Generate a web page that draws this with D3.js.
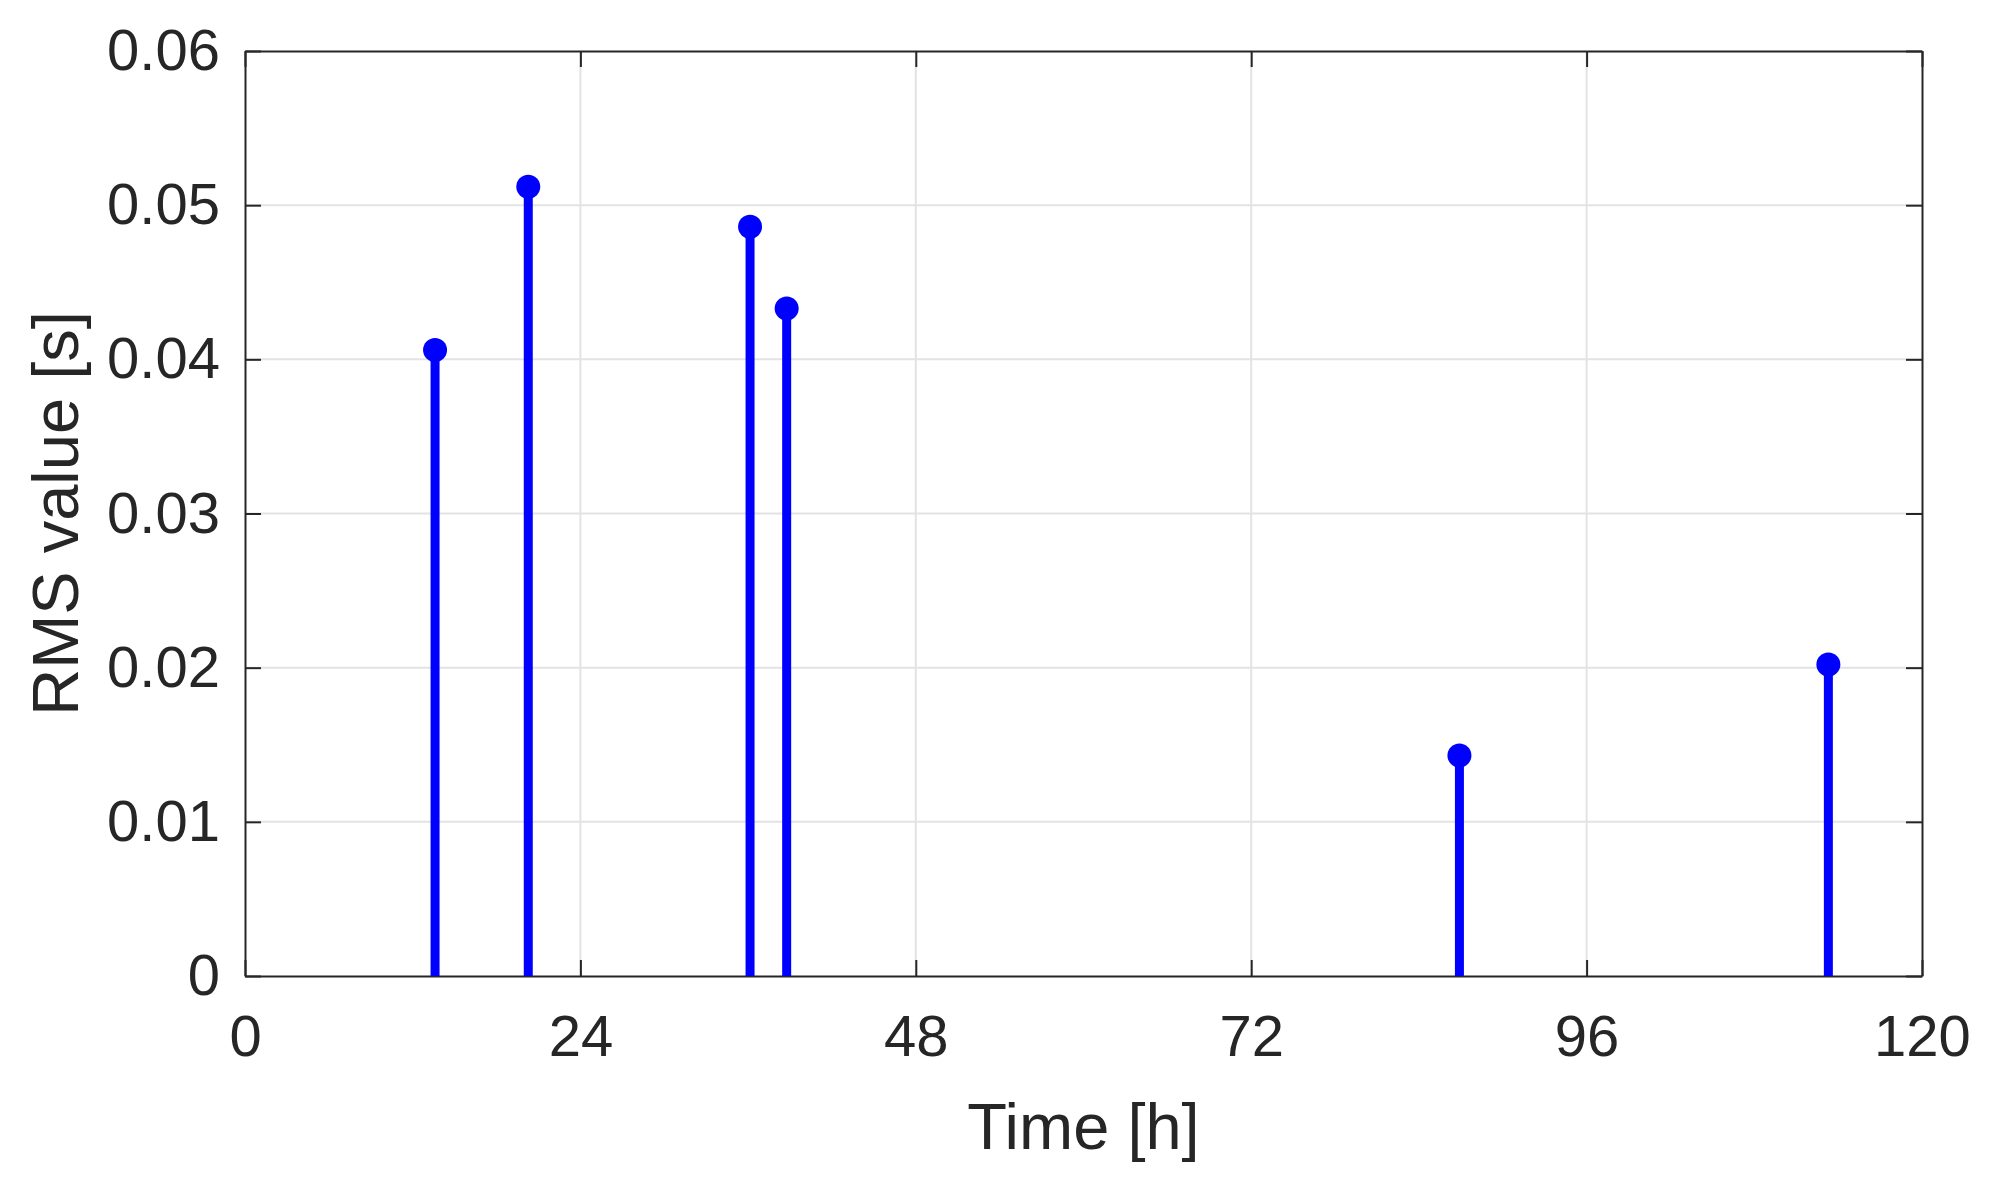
<!DOCTYPE html>
<html>
<head>
<meta charset="utf-8">
<script src="https://cdn.jsdelivr.net/npm/d3@7"></script>
<style>
  body { margin: 0; background: #fff; }
  text { font-family: "Liberation Sans", Arial, sans-serif; fill: #262626; }
</style>
</head>
<body>
<div id="chart"></div>
<script>
// data
var timeHours = [13.6, 20.27, 36.14, 38.76, 86.9, 113.3];
var rmsValues = [0.0406, 0.0512, 0.0486, 0.0433, 0.0143, 0.0202];
var xTicks = [0, 24, 48, 72, 96, 120];
var yTicks = [0, 0.01, 0.02, 0.03, 0.04, 0.05, 0.06];

var W = 1990, H = 1193;
var margin = { top: 51, right: 68, bottom: 217, left: 245 };
var width = W - margin.left - margin.right,
    height = H - margin.top - margin.bottom;

var svg = d3.select("#chart").append("svg")
    .attr("width", W)
    .attr("height", H);

var g = svg.append("g")
    .attr("transform", "translate(" + margin.left + "," + margin.top + ")");

var x = d3.scaleLinear().domain([0, 120]).range([0, width]);
var y = d3.scaleLinear().domain([0, 0.06]).range([height, 0]);

// grid lines
g.append("g").selectAll("line").data(xTicks.slice(1, -1)).enter().append("line")
    .attr("x1", function (d) { return x(d); }).attr("x2", function (d) { return x(d); })
    .attr("y1", 0).attr("y2", height)
    .attr("stroke", "#e3e3e3").attr("stroke-width", 2);
g.append("g").selectAll("line").data(yTicks.slice(1, -1)).enter().append("line")
    .attr("y1", function (d) { return y(d); }).attr("y2", function (d) { return y(d); })
    .attr("x1", 0).attr("x2", width)
    .attr("stroke", "#e3e3e3").attr("stroke-width", 2);

// axes, ticks pointing inward, box on all sides
var tickLen = 16;
var xAxis = d3.axisBottom(x).tickValues(xTicks).tickSizeInner(-tickLen).tickSizeOuter(0)
    .tickPadding(40).tickFormat(d3.format("d"));
var yAxis = d3.axisLeft(y).tickValues(yTicks).tickSizeInner(-tickLen).tickSizeOuter(0)
    .tickPadding(40).tickFormat(function (d) { return d === 0 ? "0" : d3.format(".2f")(d); });

var gx = g.append("g").attr("transform", "translate(0," + height + ")").call(xAxis);
var gy = g.append("g").call(yAxis);
var gx2 = g.append("g").call(d3.axisTop(x).tickValues(xTicks).tickSizeInner(-tickLen).tickSizeOuter(0).tickFormat(""));
var gy2 = g.append("g").attr("transform", "translate(" + width + ",0)")
    .call(d3.axisRight(y).tickValues(yTicks).tickSizeInner(-tickLen).tickSizeOuter(0).tickFormat(""));

[gx, gy, gx2, gy2].forEach(function (a) {
    a.select(".domain").attr("stroke", "#262626").attr("stroke-width", 2);
    a.selectAll(".tick line").attr("stroke", "#262626").attr("stroke-width", 2);
    a.selectAll(".tick text").attr("fill", "#262626")
        .style("font-family", "'Liberation Sans', Arial, sans-serif")
        .style("font-size", "58px");
});
gx.selectAll(".tick text").attr("dy", "0.71em").attr("y", 39);
gy.selectAll(".tick text").attr("x", -25);

// stems
g.append("g").selectAll("line").data(timeHours).enter().append("line")
    .attr("x1", function (d) { return x(d); })
    .attr("x2", function (d) { return x(d); })
    .attr("y1", y(0))
    .attr("y2", function (d, i) { return y(rmsValues[i]); })
    .attr("stroke", "#0000ff")
    .attr("stroke-width", 9);

g.append("g").selectAll("circle").data(timeHours).enter().append("circle")
    .attr("cx", function (d) { return x(d); })
    .attr("cy", function (d, i) { return y(rmsValues[i]); })
    .attr("r", 12)
    .attr("fill", "#0000ff");

// axis titles
svg.append("text")
    .attr("x", margin.left + width / 2)
    .attr("y", 1149)
    .attr("text-anchor", "middle")
    .style("font-size", "65px")
    .text("Time [h]");

svg.append("text")
    .attr("transform", "translate(78," + (margin.top + height / 2) + ") rotate(-90)")
    .attr("text-anchor", "middle")
    .style("font-size", "65px")
    .text("RMS value [s]");
</script>
</body>
</html>
